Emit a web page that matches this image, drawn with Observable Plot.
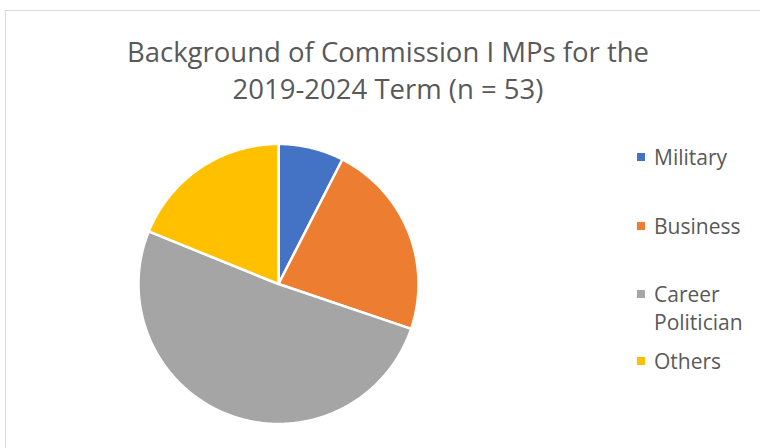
<!DOCTYPE html>
<html>
<head>
<meta charset="utf-8">
<script src="https://cdn.jsdelivr.net/npm/d3@7"></script>
<script src="https://cdn.jsdelivr.net/npm/@observablehq/plot@0.6"></script>
<style>
  html, body { margin: 0; padding: 0; background: #fff; }
  #wrap { position: relative; width: 760px; height: 448px; overflow: hidden; font-family: "Open Sans", Lato, sans-serif; color: #595959; }
  #wrap svg { position: absolute; left: 0; top: 0; }
  #frame { position: absolute; left: 5px; top: 10px; width: 800px; height: 500px; border: 1.5px solid #d9d9d9; box-sizing: border-box; }
  #title { position: absolute; left: 0; width: 776px; top: 33px; text-align: center; font-size: 27.5px; line-height: 37px; }
  .leg { position: absolute; left: 637px; font-size: 21px; line-height: 28px; }
  .leg .sw { position: absolute; left: 0; top: 10px; width: 8px; height: 8px; }
  .leg .lab { position: absolute; left: 17px; top: 0; white-space: nowrap; }
</style>
</head>
<body>
<div id="wrap">
  <div id="frame"></div>
  <div id="title">Background of Commission I MPs for the<br>2019-2024 Term (n = 53)</div>
</div>
<script>
const categories = ["Military", "Business", "Career Politician", "Others"];
const values = [4, 12, 27, 10];
const colors = ["#4472C4", "#ED7D31", "#A5A5A5", "#FFC000"];
const legendLabels = [["Military"], ["Business"], ["Career", "Politician"], ["Others"]];

const cx = 278, cy = 283.5, r = 140;
const pie = d3.pie().sort(null).value(d => d.value).startAngle(0).endAngle(2 * Math.PI);
const arcs = pie(categories.map((c, i) => ({category: c, value: values[i]})));
const pts = [];
for (const a of arcs) {
  const cat = a.data.category;
  pts.push({category: cat, x: cx, y: cy});
  const n = Math.max(2, Math.ceil((a.endAngle - a.startAngle) / 0.01));
  for (let k = 0; k <= n; k++) {
    const t = a.startAngle + (a.endAngle - a.startAngle) * k / n;
    pts.push({category: cat, x: cx + r * Math.sin(t), y: cy - r * Math.cos(t)});
  }
  pts.push({category: cat, x: cx, y: cy});
}

const chart = Plot.plot({
  width: 760, height: 448,
  margin: 0,
  x: {domain: [0, 760], range: [0, 760], axis: null},
  y: {domain: [0, 448], range: [0, 448], axis: null},
  color: {domain: categories, range: colors},
  marks: [
    Plot.line(pts, {x: "x", y: "y", z: "category", fill: "category", stroke: "white", strokeWidth: 2.5, strokeLinejoin: "round", curve: "linear"})
  ]
});
const wrap = document.getElementById("wrap");
wrap.insertBefore(chart, wrap.firstChild);

const legTops = [157, 226, 294, 361];
legendLabels.forEach((lines, i) => {
  const d = document.createElement("div");
  d.className = "leg";
  d.style.top = (legTops[i] - 14) + "px";
  const sw = document.createElement("div");
  sw.className = "sw";
  sw.style.background = colors[i];
  d.appendChild(sw);
  const lab = document.createElement("div");
  lab.className = "lab";
  lab.innerHTML = lines.join("<br>");
  d.appendChild(lab);
  wrap.appendChild(d);
});
</script>
</body>
</html>
